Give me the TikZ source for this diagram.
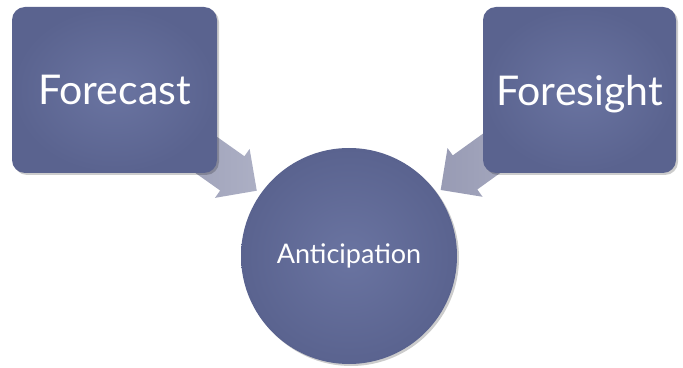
\documentclass[tikz,border=0pt]{standalone}
\usepackage{fontspec}
\setmainfont{Lato}
\usetikzlibrary{calc,shadows}
\definecolor{boxin}{RGB}{106,116,161}
\definecolor{boxout}{RGB}{90,99,143}
\definecolor{arrowc}{RGB}{172,175,196}
\definecolor{arrowd}{RGB}{152,155,180}
\tikzset{
  x=1pt,y=1pt,
  sqbox/.style={rounded corners=13pt, minimum width=205pt, minimum height=166pt,
    shading=radial, inner color=boxin, outer color=boxout, text=white,
    font=\fontsize{41}{48}\selectfont, inner sep=0pt, text depth=0pt,
    drop shadow={shadow xshift=2pt, shadow yshift=-2pt, opacity=0.2, fill=black}},
  rnd/.style={circle, minimum size=216pt, inner sep=0pt,
    shading=radial, inner color=boxin, outer color=boxout, text=white,
    font=\fontsize{27}{32}\selectfont,
    drop shadow={shadow xshift=2pt, shadow yshift=-2pt, opacity=0.2, fill=black}},
  blockarrow/.style={left color=arrowd, right color=arrowc, draw=none}
}
\begin{document}
\begin{tikzpicture}
\useasboundingbox (0,0) rectangle (683,367);
% positions (image y down -> tikz y = 367 - y)
\coordinate (fc) at (114.5,277);
\coordinate (gc) at (579.5,277);
\coordinate (cc) at (349,111);
% block arrows (drawn first, behind the shapes)
\coordinate (ltip) at ($(cc)!113pt!(fc)$);
\coordinate (rtip) at ($(cc)!113pt!(gc)$);
\path let \p1=($(cc)-(fc)$), \n1={atan2(\y1,\x1)} in
  [blockarrow, shift={(ltip)}, rotate=\n1]
  (0,0) -- (-30,30) -- (-30,21) -- (-130,21) -- (-130,-21) -- (-30,-21) -- (-30,-30) -- cycle;
\path let \p1=($(cc)-(gc)$), \n1={atan2(\y1,\x1)} in
  [blockarrow, shift={(rtip)}, rotate=\n1]
  (0,0) -- (-30,30) -- (-30,21) -- (-130,21) -- (-130,-21) -- (-30,-21) -- (-30,-30) -- cycle;
% nodes
\node[sqbox] (f) at (fc) {Forecast};
\node[sqbox, minimum width=193pt] (g) at (gc) {Foresight};
\node[rnd] (c) at (cc) {Anticipation};
\end{tikzpicture}
\end{document}
